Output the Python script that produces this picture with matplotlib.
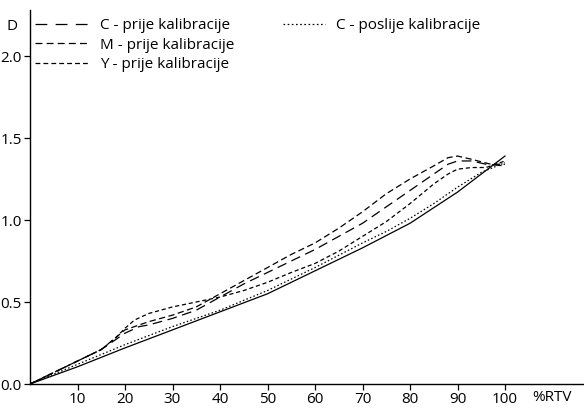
import matplotlib
matplotlib.use("Agg")
import matplotlib.pyplot as plt
from matplotlib.lines import Line2D

plt.rcParams['font.family'] = ['Open Sans', 'DejaVu Sans']
plt.rcParams['lines.scale_dashes'] = False

# %RTV values and optical densities D
x_ref = [0, 10, 20, 30, 40, 50, 60, 70, 80, 90, 100]
d_ref = [0.0, 0.105, 0.22, 0.33, 0.44, 0.55, 0.69, 0.83, 0.98, 1.17, 1.39]

x_c_post = [0, 5, 10, 20, 30, 40, 50, 60, 70, 75, 80, 85, 90, 95, 100]
d_c_post = [0.0, 0.06, 0.12, 0.24, 0.35, 0.45, 0.57, 0.71, 0.86, 0.93, 1.01, 1.10, 1.20, 1.29, 1.35]

x_c_pre = [0, 5, 10, 15, 18, 20, 23, 25, 30, 35, 40, 45, 50, 55, 60, 65, 70, 75, 80, 85, 88, 90, 93, 96, 100]
d_c_pre = [0.0, 0.07, 0.14, 0.21, 0.27, 0.31, 0.35, 0.36, 0.40, 0.45, 0.53, 0.61, 0.68, 0.75,
           0.82, 0.90, 0.98, 1.08, 1.18, 1.28, 1.34, 1.36, 1.36, 1.34, 1.33]

x_m_pre = [0, 10, 15, 20, 25, 30, 35, 40, 45, 50, 55, 60, 65, 70, 75, 80, 85, 88, 90, 93, 97, 100]
d_m_pre = [0.0, 0.14, 0.21, 0.33, 0.38, 0.42, 0.47, 0.55, 0.63, 0.71, 0.79, 0.86, 0.95,
           1.05, 1.16, 1.25, 1.33, 1.38, 1.39, 1.37, 1.34, 1.34]

x_y_pre = [0, 5, 10, 15, 18, 20, 22, 25, 30, 35, 40, 45, 50, 55, 60, 65, 70, 75, 80, 85, 88, 90, 93, 96, 100]
d_y_pre = [0.0, 0.07, 0.14, 0.21, 0.28, 0.34, 0.39, 0.43, 0.47, 0.50, 0.53, 0.57, 0.62, 0.68,
           0.735, 0.81, 0.90, 0.99, 1.10, 1.22, 1.28, 1.31, 1.32, 1.32, 1.36]

x_ticks = [10, 20, 30, 40, 50, 60, 70, 80, 90, 100]
y_ticks = [0.0, 0.5, 1.0, 1.5, 2.0]

fig = plt.figure(figsize=(5.84, 4.08), dpi=100)
ax = fig.add_axes([30 / 584, 24 / 408, 553 / 584, 374 / 408])

lw = 0.9
ax.plot(x_ref, d_ref, color='black', lw=lw, ls='-')
ax.plot(x_c_pre, d_c_pre, color='black', lw=lw, dashes=(7, 4))
ax.plot(x_m_pre, d_m_pre, color='black', lw=lw, dashes=(4.5, 2.5))
ax.plot(x_y_pre, d_y_pre, color='black', lw=lw, dashes=(3, 2))
ax.plot(x_c_post, d_c_post, color='black', lw=lw, dashes=(1.1, 1.6))

ax.set_xlim(0, 553 / 4.75)
ax.set_ylim(0, 374 / 164)
ax.spines['top'].set_visible(False)
ax.spines['right'].set_visible(False)
ax.spines['left'].set_linewidth(1.0)
ax.spines['bottom'].set_linewidth(1.0)
ax.set_xticks(x_ticks)
ax.set_yticks(y_ticks)
ax.set_yticklabels([f"{v:.1f}" for v in y_ticks])
ax.tick_params(axis='both', direction='out', length=4, width=0.9, labelsize=11, pad=2, colors='black')

fs = 11
ax.text(109.9, -0.08, "%RTV", ha='center', va='center', fontsize=fs, clip_on=False)
ax.text(-3.8, 2.177, "D", ha='center', va='center', fontsize=fs, clip_on=False)

h_c = Line2D([], [], color='black', lw=lw, dashes=(8.5, 6))
h_m = Line2D([], [], color='black', lw=lw, dashes=(5, 3))
h_y = Line2D([], [], color='black', lw=lw, dashes=(3.5, 2.2))
h_cp = Line2D([], [], color='black', lw=lw, dashes=(1.2, 1.8))

leg1 = ax.legend([h_c, h_m, h_y],
                 ["C - prije kalibracije", "M - prije kalibracije", "Y - prije kalibracije"],
                 loc='upper left', bbox_to_anchor=(5 / 553, 1 - 8 / 374), frameon=False,
                 fontsize=fs, handlelength=3.6, handletextpad=0.65, borderpad=0,
                 borderaxespad=0, labelspacing=0.3)
ax.add_artist(leg1)
ax.legend([h_cp], ["C - poslije kalibracije"],
          loc='upper left', bbox_to_anchor=(253 / 553, 1 - 8 / 374), frameon=False,
          fontsize=fs, handlelength=2.75, handletextpad=0.72, borderpad=0, borderaxespad=0)

fig.savefig("out.png", dpi=100)
